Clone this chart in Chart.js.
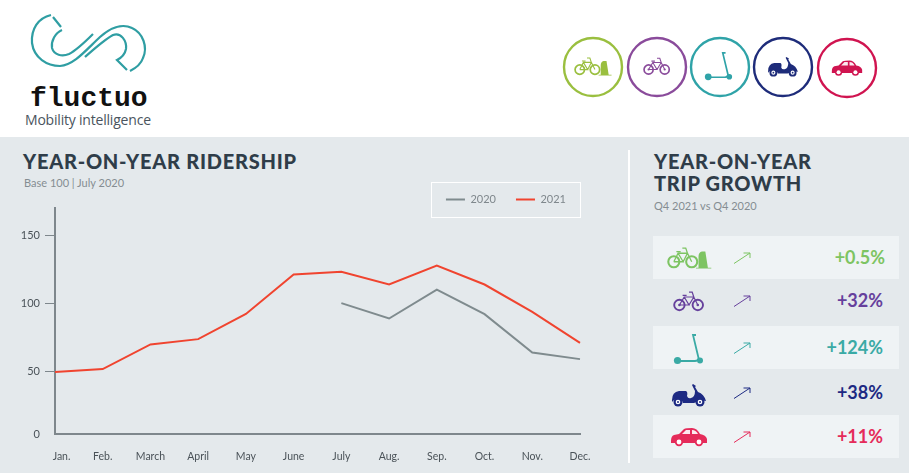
<!DOCTYPE html>
<html>
<head>
<meta charset="utf-8">
<script src="https://cdn.jsdelivr.net/npm/chart.js@4"></script>
<style>
  html, body { margin: 0; padding: 0; }
  body { width: 909px; height: 473px; background: #fff; position: relative; overflow: hidden; font-family: Lato, sans-serif; }
  .abs { position: absolute; }
  #panel { left: 0; top: 137px; width: 909px; height: 336px; background: #e4e9ec; }
  #divider { left: 628px; top: 150px; width: 2px; height: 313px; background: #fff; }
  .title { font-weight: 900; color: #2f3d49; font-size: 20px; line-height: 22px; letter-spacing: .75px; white-space: nowrap; }
  .sub { font-size: 11px; color: #858d92; white-space: nowrap; }
  #legendBox { left: 431px; top: 182px; width: 148px; height: 34px; border: 1px solid #fff; }
  #chartWrap { left: 0; top: 170px; width: 610px; height: 303px; }
  .row { left: 653px; width: 246px; height: 43px; }
  .row.fill { background: #eff3f5; }
  .pct { position: absolute; right: 16px; top: 0; line-height: 43px; font-size: 18px; font-weight: 700; }
  .row svg { position: absolute; }
  .circle { width: 62px; height: 62px; top: 36px; }
</style>
</head>
<body>
<svg width="0" height="0" style="position:absolute">
  <defs>
    <symbol id="bike" viewBox="0 0 40 26">
      <g fill="none" stroke="currentColor" stroke-width="2.4">
        <circle cx="8" cy="18" r="6.5"/><circle cx="31" cy="18" r="6.5"/>
        <path stroke-width="1.5" d="M8 18 L14 8 H26 L31 18 M14 8 L20 18 H8 M20 18 L26 8 L24 2 H20 M12 6 H17"/>
      </g>
      <circle cx="8" cy="18" r="1.6" fill="currentColor"/><circle cx="31" cy="18" r="1.6" fill="currentColor"/>
    </symbol>
    <symbol id="dockbike" viewBox="0 0 54 26">
      <g fill="none" stroke="currentColor" stroke-width="2.4">
        <circle cx="8" cy="18" r="6.5"/><circle cx="29" cy="18" r="6.5"/>
        <path stroke-width="1.5" d="M8 18 L13 8 H24 L29 18 M13 8 L19 18 H8 M19 18 L24 8 L22 2 H18 M11 6 H16"/>
      </g>
      <path fill="currentColor" d="M37 25 V12 Q37 7 41 6 L45 6 L48 25 Z M34 25 H52 V26 H34 Z"/>
    </symbol>
    <symbol id="kick" viewBox="0 0 32 32">
      <g fill="none" stroke="currentColor">
        <path stroke-width="1.8" d="M6 28 H22 Q25 28 26 25 M26 27 L20 2 H23"/>
      </g>
      <circle cx="4.5" cy="27.5" r="3.6" fill="currentColor"/><circle cx="27" cy="27.5" r="3" fill="currentColor"/>
    </symbol>
    <symbol id="moped" viewBox="0 0 36 24">
      <path fill="currentColor" d="M1 17 Q1 9 8 8 L15 8 Q17 9 16 13 Q17 16 20 15 Q24 14 24 8 L21 2 L22 1 L25 3 L24 4 L27 9 Q33 11 35 18 L28 17 Q25 20 23 20 H12 Q11 16 7 16 Q3 16 1 19 Z"/>
      <circle cx="7" cy="19" r="4.5" fill="currentColor"/><circle cx="29" cy="19" r="4.5" fill="currentColor"/>
      <circle cx="7" cy="19" r="2.3" fill="#fff"/><circle cx="29" cy="19" r="2.3" fill="#fff"/>
      <circle cx="7" cy="19" r="1" fill="currentColor"/><circle cx="29" cy="19" r="1" fill="currentColor"/>
    </symbol>
    <symbol id="car" viewBox="0 0 38 20">
      <path fill="currentColor" d="M1 14 Q1 9 4 8 L9 7 L14 2 Q16 1 22 1 Q27 1 30 7 Q36 8 37 12 L37 16 H1 Z"/>
      <path fill="#fff" opacity=".9" d="M12 7 L16 3 H20 V7 Z M22 3 Q26 3 28 7 H22 Z"/>
      <circle cx="9" cy="15" r="4.2" fill="currentColor"/><circle cx="29" cy="15" r="4.2" fill="currentColor"/>
      <circle cx="9" cy="15" r="2.4" fill="#fff"/><circle cx="29" cy="15" r="2.4" fill="#fff"/>
    </symbol>
    <symbol id="arrow" viewBox="0 0 18 12">
      <path fill="none" stroke="currentColor" stroke-width="1" d="M1 11.5 L17 1 M10.5 1 H17 V6"/>
    </symbol>
  </defs>
</svg>

<!-- logo -->
<svg class="abs" style="left:0;top:0" width="200" height="90" fill="none" stroke="#2f9ea3" stroke-width="2.2">
  <path d="M51 15 C38 18 31 29 32 43 C34 58 47 66 60 66 C74 65 86 50 100 37 C110 28 122 23 132 28 C143 33 148 47 143 58 C141 64 136 68 130 71"/>
  <path d="M53 17 L61 27 M62 30 C55 33 51 41 52 48 C54 55 62 57 69 54 C77 50 85 42 93 34"/>
  <path d="M85 57 C94 49 104 40 113 35 C121 32 127 41 126 49 C125 54 121 58 117 60 L127 70"/>
</svg>
<div class="abs" style="left:30px;top:83px;font:700 28px 'Liberation Mono',monospace;color:#111;white-space:nowrap">fluctuo</div>
<div class="abs" style="left:25px;top:110px;font:14px 'Open Sans',sans-serif;color:#4a545d;white-space:nowrap;letter-spacing:-.2px">Mobility intelligence</div>

<!-- mode circles -->
<svg class="abs circle" style="left:562px"><circle cx="31" cy="31" r="29" fill="none" stroke="#9abf3f" stroke-width="2.4"/><use href="#dockbike" x="12" y="19" width="39" height="22" color="#9abf3f"/></svg>
<svg class="abs circle" style="left:626px"><circle cx="31" cy="31" r="29" fill="none" stroke="#8a4b9b" stroke-width="2.4"/><use href="#bike" x="17" y="20" width="28" height="20" color="#8a4b9b"/></svg>
<svg class="abs circle" style="left:689px"><circle cx="31" cy="31" r="29" fill="none" stroke="#2fa3a8" stroke-width="2.4"/><use href="#kick" x="15" y="15" width="30" height="30" color="#2fa3a8"/></svg>
<svg class="abs circle" style="left:752px"><circle cx="31" cy="31" r="29" fill="none" stroke="#1e2c7a" stroke-width="2.4"/><use href="#moped" x="15" y="20" width="32" height="21" color="#1e2c7a"/></svg>
<svg class="abs circle" style="left:816px;top:37px"><circle cx="31" cy="31" r="29" fill="none" stroke="#d01450" stroke-width="2.4"/><use href="#car" x="15" y="22" width="32" height="18" color="#d01450"/></svg>

<div id="panel" class="abs"></div>
<div id="divider" class="abs"></div>

<div class="abs title" style="left:23px;top:150px">YEAR-ON-YEAR RIDERSHIP</div>
<div class="abs sub" style="left:24px;top:176px">Base 100 | July 2020</div>

<div id="legendBox" class="abs"></div>
<div id="chartWrap" class="abs"><canvas id="ridership" width="610" height="303"></canvas></div>

<div class="abs title" style="left:654px;top:150px">YEAR-ON-YEAR<br>TRIP GROWTH</div>
<div class="abs sub" style="left:654px;top:199px">Q4 2021 vs Q4 2020</div>

<div class="abs row fill" style="top:236px"><svg style="left:14px;top:10px" width="46" height="23" color="#7dc462"><use href="#dockbike" width="46" height="23"/></svg><svg style="left:80px;top:16px" width="18" height="12" color="#7dc462"><use href="#arrow" width="18" height="12"/></svg><span class="pct" style="color:#7dc462;right:14px">+0.5%</span></div>
<div class="abs row" style="top:279px"><svg style="left:20px;top:11px" width="32" height="22" color="#66409c"><use href="#bike" width="32" height="22"/></svg><svg style="left:80px;top:16px" width="18" height="12" color="#66409c"><use href="#arrow" width="18" height="12"/></svg><span class="pct" style="color:#66409c">+32%</span></div>
<div class="abs row fill" style="top:326px"><svg style="left:20px;top:6px" width="32" height="34" color="#3aaaa5"><use href="#kick" width="32" height="34"/></svg><svg style="left:80px;top:16px" width="18" height="12" color="#3aaaa5"><use href="#arrow" width="18" height="12"/></svg><span class="pct" style="color:#3aaaa5">+124%</span></div>
<div class="abs row" style="top:371px"><svg style="left:18px;top:12px" width="36" height="24" color="#1d2a83"><use href="#moped" width="36" height="24"/></svg><svg style="left:80px;top:16px" width="18" height="12" color="#1d2a83"><use href="#arrow" width="18" height="12"/></svg><span class="pct" style="color:#1d2a83">+38%</span></div>
<div class="abs row fill" style="top:415px"><svg style="left:17px;top:12px" width="38" height="20" color="#e52b5a"><use href="#car" width="38" height="20"/></svg><svg style="left:80px;top:16px" width="18" height="12" color="#e52b5a"><use href="#arrow" width="18" height="12"/></svg><span class="pct" style="color:#e52b5a">+11%</span></div>

<script>
const months = ["Jan.", "Feb.", "March", "April", "May", "June", "July", "Aug.", "Sep.", "Oct.", "Nov.", "Dec."];
const values2020 = [null, null, null, null, null, null, 100, 88.7, 110, 91.9, 63.7, 58.8];
const values2021 = [49.3, 51.5, 69.6, 73.5, 92, 121, 123, 113.7, 127.7, 113.7, 93.6, 70.8];
const yTicks = [50, 100, 150];

// the source axis is squeezed under 50: its "0" sits at about 3.7 on the 50/100/150 spacing
const axisFloor = 3.7;
const axisTop = 170;

// keeps the legend band at a fixed height so the plot top stays put, nudges it into the box
const legendBand = {
  id: "legendBand",
  beforeInit(chart) {
    const fit = chart.legend.fit;
    chart.legend.fit = function () {
      fit.call(this);
      this.height = 34;
    };
  },
  afterLayout(chart) {
    chart.legend.right += 6;
  }
};

new Chart(document.getElementById("ridership"), {
  type: "line",
  plugins: [legendBand],
  data: {
    labels: months,
    datasets: [
      { label: "2020", data: values2020, borderColor: "#7f8b8e", backgroundColor: "#7f8b8e", borderWidth: 2, pointRadius: 0, tension: 0 },
      { label: "2021", data: values2021, borderColor: "#f0442f", backgroundColor: "#f0442f", borderWidth: 2, pointRadius: 0, tension: 0 }
    ]
  },
  options: {
    responsive: false,
    animation: false,
    layout: { padding: { top: 4, right: 30, bottom: 0, left: 0 } },
    plugins: {
      tooltip: { enabled: false },
      legend: {
        position: "top",
        align: "end",
        labels: { boxWidth: 19, boxHeight: 0, color: "#7f878c", font: { family: "Lato", size: 11 }, padding: 20 }
      }
    },
    scales: {
      x: {
        offset: false,
        afterFit: s => { s.height = 39; },
        border: { color: "#7e878c", width: 2 },
        grid: { display: false },
        ticks: {
          color: "#4a5258", maxRotation: 0, autoSkip: false, padding: 8,
          font: { family: "Lato", size: 10.5 },
          callback(v, i) { return i === 0 ? "\u00a0\u00a0\u00a0\u00a0\u00a0" + months[i] : months[i]; }
        }
      },
      y: {
        min: axisFloor,
        max: axisTop,
        afterFit: s => { s.width = 55; },
        afterBuildTicks: s => { s.ticks = [{ value: axisFloor }].concat(yTicks.map(v => ({ value: v }))); },
        border: { color: "#7e878c", width: 2 },
        grid: {
          drawOnChartArea: false,
          tickLength: 10,
          tickColor: c => c.tick && c.tick.value === axisFloor ? "transparent" : "#7e878c"
        },
        ticks: {
          color: "#4a5258", padding: 5,
          font: { family: "Lato", size: 11 },
          callback: v => v === axisFloor ? "0" : String(v)
        }
      }
    }
  }
});
</script>
</body>
</html>
